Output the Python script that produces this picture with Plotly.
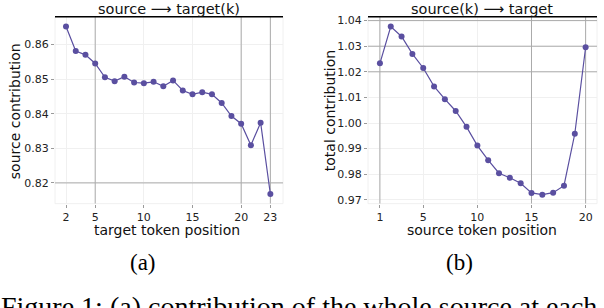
import plotly.graph_objects as go

# ---- data ----
left_x = list(range(2, 24))
left_y = [0.8652, 0.8581, 0.8570, 0.8545, 0.8505, 0.8494, 0.8507, 0.8490, 0.8488,
          0.8492, 0.8479, 0.8496, 0.8467, 0.8456, 0.8462, 0.8456, 0.8431, 0.8393,
          0.8371, 0.8309, 0.8374, 0.8168]
right_x = list(range(1, 21))
right_y = [1.0233, 1.0377, 1.0338, 1.0270, 1.0215, 1.0143, 1.0093, 1.0047, 0.9985,
           0.9912, 0.9855, 0.9804, 0.9786, 0.9765, 0.9727, 0.9720, 0.9728, 0.9755,
           0.9958, 1.0296]
left_xticks = [2, 5, 10, 15, 20, 23]
left_yticks = [0.82, 0.83, 0.84, 0.85, 0.86]
right_xticks = [1, 5, 10, 15, 20]
right_yticks = [0.97, 0.98, 0.99, 1.00, 1.01, 1.02, 1.03, 1.04]
left_dark_x = [5, 20, 23]
left_dark_y = [0.82]
right_dark_x = [1, 15, 20]
right_dark_y = [1.02, 1.03, 1.04]

left_title = "source ⟶ target(k)"
right_title = "source(k) ⟶ target"
left_xtitle = "target token position"
right_xtitle = "source token position"
left_ytitle = "source contribution"
right_ytitle = "total contribution"
caption_a = "(a)"
caption_b = "(b)"
caption = "Figure 1: (a) contribution of the whole source at each"

W, H = 604, 308
COLOR = "#5a4fa0"
LIGHT = "#f0f0f0"
DARK = "#ababab"
SANS = "DejaVu Sans"
SERIF = "Liberation Serif"

LX_RANGE = [0.87, 24.3]
LY_RANGE = [0.8140, 0.8680]
RX_RANGE = [-0.1, 21.05]
RY_RANGE = [0.9685, 1.0415]


def px(x):
    return x / W


def py(y):
    return 1 - y / H


def grid_trace(vx, vy, xr, yr, xa, ya):
    xs, ys = [], []
    for v in vx:
        xs += [v, v, None]
        ys += [yr[0], yr[1], None]
    for v in vy:
        xs += [xr[0], xr[1], None]
        ys += [v, v, None]
    return go.Scatter(x=xs, y=ys, mode="lines", line=dict(color=DARK, width=1),
                      hoverinfo="skip", showlegend=False, xaxis=xa, yaxis=ya,
                      cliponaxis=True)


fig = go.Figure()
fig.add_trace(grid_trace(left_dark_x, left_dark_y, LX_RANGE, LY_RANGE, "x", "y"))
fig.add_trace(grid_trace(right_dark_x, right_dark_y, RX_RANGE, RY_RANGE, "x2", "y2"))
fig.add_trace(go.Scatter(x=left_x, y=left_y, mode="lines+markers",
                         line=dict(color=COLOR, width=1.2),
                         marker=dict(color=COLOR, size=6),
                         xaxis="x", yaxis="y", showlegend=False))
fig.add_trace(go.Scatter(x=right_x, y=right_y, mode="lines+markers",
                         line=dict(color=COLOR, width=1.2),
                         marker=dict(color=COLOR, size=6),
                         xaxis="x2", yaxis="y2", showlegend=False))

ax_common = dict(showgrid=True, gridcolor=LIGHT, gridwidth=1, zeroline=False,
                 showline=False, ticks="outside", ticklen=3, tickcolor="#9a9a9a",
                 tickfont=dict(family=SANS, size=11, color="#222"))

ydom = [py(205), py(15)]
fig.update_layout(
    width=W, height=H, margin=dict(l=0, r=0, t=0, b=0),
    paper_bgcolor="white", plot_bgcolor="white",
    xaxis=dict(domain=[px(55), px(283)], range=LX_RANGE, tickvals=left_xticks,
               anchor="y", **ax_common),
    yaxis=dict(domain=ydom, range=LY_RANGE, tickvals=left_yticks,
               tickformat=".2f", anchor="x", **ax_common),
    xaxis2=dict(domain=[px(368), px(597)], range=RX_RANGE, tickvals=right_xticks,
                anchor="y2", **ax_common),
    yaxis2=dict(domain=ydom, range=RY_RANGE, tickvals=right_yticks,
                tickformat=".2f", anchor="x2", **ax_common),
)

shapes = []
for (x0, x1) in [(55, 283), (368, 597)]:
    shapes.append(dict(type="rect", xref="paper", yref="paper",
                       x0=px(x0), x1=px(x1), y0=py(205), y1=py(15),
                       line=dict(color=LIGHT, width=1), layer="below"))
    shapes.append(dict(type="line", xref="paper", yref="paper",
                       x0=px(x0), x1=px(x1), y0=py(15), y1=py(15),
                       line=dict(color="black", width=1.5)))
fig.update_layout(shapes=shapes)

ann = []


def text(s, x, y, size, family, angle=0, xanchor="center", yanchor="middle", color="#111"):
    ann.append(dict(text=s, x=px(x), y=py(y), xref="paper", yref="paper",
                    showarrow=False, xanchor=xanchor, yanchor=yanchor, textangle=angle,
                    borderpad=0, font=dict(family=family, size=size, color=color)))


text(left_title, 169, 7, 14.5, SANS)
text(right_title, 482, 7, 14.5, SANS)
text(left_xtitle, 167, 232, 14, SANS)
text(right_xtitle, 482, 232, 14, SANS)
text(left_ytitle, 15, 111, 14, SANS, angle=-90)
text(right_ytitle, 330, 111, 14, SANS, angle=-90)
text(caption_a, 143, 265, 23, SERIF, color="black")
text(caption_b, 459, 265, 23, SERIF, color="black")
text(caption, 0, 310, 28, SERIF, xanchor="left", color="black")
fig.update_layout(annotations=ann)

fig.write_html("out.html", config={"displayModeBar": False},
               post_script="document.body.style.margin='0';")
